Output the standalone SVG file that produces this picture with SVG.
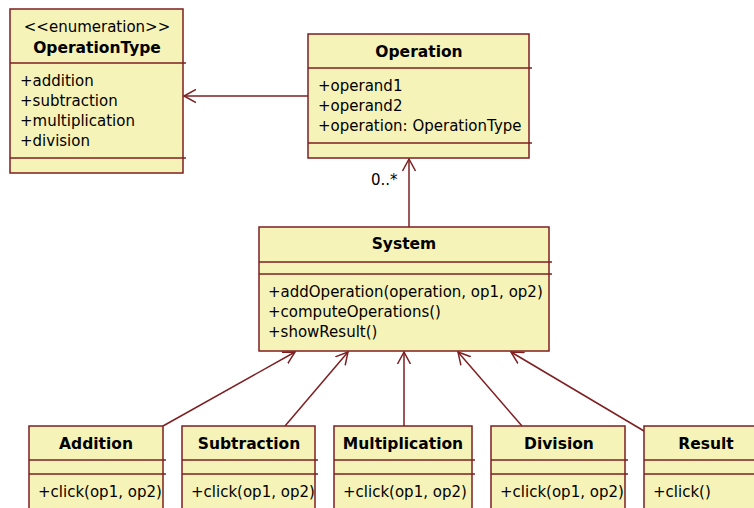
<svg xmlns="http://www.w3.org/2000/svg" width="754" height="508" viewBox="0 0 754 508">
<style>
.box{fill:#F6F3B8;stroke:#7E1F22;stroke-width:1.5}
.sep{stroke:#7E1F22;stroke-width:1.5}
.conn{stroke:#7E1F22;stroke-width:1.5;fill:none}
text{font-family:"DejaVu Sans",Verdana,sans-serif;font-size:15px;fill:#000}
.t{font-weight:bold;text-anchor:middle;font-size:15.5px}
.c{text-anchor:middle}
</style>
<defs>
<marker id="open" markerUnits="userSpaceOnUse" markerWidth="16" markerHeight="16" refX="12" refY="7" orient="auto" viewBox="0 0 16 14">
<path d="M0,0.5 L12,7 L0,13.5" fill="none" stroke="#7E1F22" stroke-width="1.5"/>
</marker>
</defs>
<rect width="754" height="508" fill="#fff"/>
<g id="connectors">
<line class="conn" x1="308" y1="96" x2="184" y2="96" marker-end="url(#open)"/>
<line class="conn" x1="409" y1="227" x2="409" y2="159" marker-end="url(#open)"/>
<text x="371" y="185">0..*</text>
<line class="conn" x1="163" y1="426" x2="295" y2="352" marker-end="url(#open)"/>
<line class="conn" x1="285" y1="426" x2="348" y2="352" marker-end="url(#open)"/>
<line class="conn" x1="404" y1="426" x2="404" y2="352" marker-end="url(#open)"/>
<line class="conn" x1="522" y1="426" x2="458" y2="352" marker-end="url(#open)"/>
<line class="conn" x1="644" y1="431" x2="511" y2="352" marker-end="url(#open)"/>
</g>
<g id="OperationType">
<rect class="box" x="10" y="9" width="173" height="164"/>
<line class="sep" x1="10" y1="63" x2="186" y2="63"/>
<line class="sep" x1="10" y1="158" x2="186" y2="158"/>
<text class="c" x="97" y="32">&lt;&lt;enumeration&gt;&gt;</text>
<text class="t" x="97" y="53">OperationType</text>
<text x="20" y="86">+addition</text>
<text x="20" y="106">+subtraction</text>
<text x="20" y="126">+multiplication</text>
<text x="20" y="146">+division</text>
</g>
<g id="Operation">
<rect class="box" x="308" y="34" width="221" height="124"/>
<line class="sep" x1="308" y1="68" x2="532" y2="68"/>
<line class="sep" x1="308" y1="143" x2="532" y2="143"/>
<text class="t" x="419" y="57">Operation</text>
<text x="318" y="91">+operand1</text>
<text x="318" y="111">+operand2</text>
<text x="318" y="131">+operation: OperationType</text>
</g>
<g id="System">
<rect class="box" x="259" y="227" width="290" height="124"/>
<line class="sep" x1="259" y1="262" x2="552" y2="262"/>
<line class="sep" x1="259" y1="274" x2="552" y2="274"/>
<text class="t" x="404" y="249">System</text>
<text x="268" y="297">+addOperation(operation, op1, op2)</text>
<text x="268" y="317">+computeOperations()</text>
<text x="268" y="337">+showResult()</text>
</g>
<g id="Addition">
<rect class="box" x="29" y="426" width="134" height="100"/>
<line class="sep" x1="29" y1="460" x2="166" y2="460"/>
<line class="sep" x1="29" y1="474" x2="166" y2="474"/>
<text class="t" x="96" y="449">Addition</text>
<text x="38" y="497">+click(op1, op2)</text>
</g>
<g id="Subtraction">
<rect class="box" x="182" y="426" width="133" height="100"/>
<line class="sep" x1="182" y1="460" x2="318" y2="460"/>
<line class="sep" x1="182" y1="474" x2="318" y2="474"/>
<text class="t" x="249" y="449">Subtraction</text>
<text x="191" y="497">+click(op1, op2)</text>
</g>
<g id="Multiplication">
<rect class="box" x="334" y="426" width="138" height="100"/>
<line class="sep" x1="334" y1="460" x2="475" y2="460"/>
<line class="sep" x1="334" y1="474" x2="475" y2="474"/>
<text class="t" x="403" y="449">Multiplication</text>
<text x="343" y="497">+click(op1, op2)</text>
</g>
<g id="Division">
<rect class="box" x="491" y="426" width="134" height="100"/>
<line class="sep" x1="491" y1="460" x2="628" y2="460"/>
<line class="sep" x1="491" y1="474" x2="628" y2="474"/>
<text class="t" x="559" y="449">Division</text>
<text x="500" y="497">+click(op1, op2)</text>
</g>
<g id="Result">
<rect class="box" x="644" y="426" width="125" height="100"/>
<line class="sep" x1="644" y1="460" x2="769" y2="460"/>
<line class="sep" x1="644" y1="474" x2="769" y2="474"/>
<text class="t" x="706" y="449">Result</text>
<text x="653" y="497">+click()</text>
</g>
</svg>
